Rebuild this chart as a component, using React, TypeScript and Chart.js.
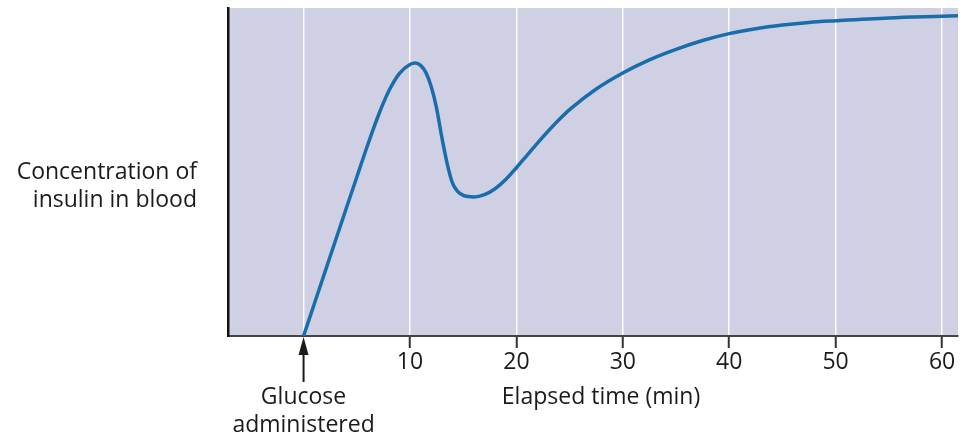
import React, { useEffect, useRef } from "react";
import { Chart, registerables } from "chart.js";

Chart.register(...registerables);

const times = [0, 1, 2, 3, 4, 5, 6, 7, 8, 9, 10, 10.5, 11, 11.5, 12, 12.5, 13, 13.5, 14, 14.5, 15, 15.5, 16, 17, 18, 19, 20, 21, 22, 23, 24, 25, 27.5, 30, 32.5, 35, 37.5, 40, 42.5, 45, 47.5, 50, 55, 60, 61.5];
const insulin = [0, 9.7, 19.4, 29.1, 38.8, 48.4, 58.0, 67.0, 74.6, 80.0, 82.8, 83.2, 82.5, 80.3, 76.0, 69.5, 60.5, 52.5, 46.6, 44.0, 42.9, 42.5, 42.4, 43.1, 44.9, 47.7, 51.3, 55.1, 58.9, 62.5, 65.9, 69.0, 75.3, 80.2, 84.2, 87.4, 90.1, 92.2, 93.7, 94.8, 95.6, 96.1, 96.95, 97.45, 97.6];
const tickValues = [0, 10, 20, 30, 40, 50, 60];
const yTitleLines = ["Concentration of", "insulin in blood"];
const xTitle = "Elapsed time (min)";
const markerLines = ["Glucose", "administered"];

const FONT = "'Open Sans', 'Noto Sans', sans-serif";
const TEXT = "#1c1a1b";

const decorPlugin = {
  id: "decor",
  beforeDraw(chart: any) {
    const { ctx, chartArea } = chart;
    ctx.save();
    ctx.fillStyle = "#d0d0e4";
    ctx.fillRect(chartArea.left, chartArea.top, chartArea.right - chartArea.left, chartArea.bottom - chartArea.top);
    ctx.restore();
  },
  afterDraw(chart: any) {
    const { ctx, chartArea } = chart;
    const xs = chart.scales.x;
    ctx.save();
    ctx.fillStyle = TEXT;
    ctx.font = `23px ${FONT}`;
    ctx.textAlign = "right";
    ctx.textBaseline = "middle";
    ctx.fillText(yTitleLines[0], 197, 172);
    ctx.fillText(yTitleLines[1], 197, 200);

    ctx.textAlign = "center";
    const x0 = xs.getPixelForValue(0);
    ctx.fillText(markerLines[0], x0, 397);
    ctx.fillText(markerLines[1], x0, 425);
    ctx.fillText(xTitle, 601, 397);

    // arrow
    const tipY = chartArea.bottom + 1;
    ctx.strokeStyle = TEXT;
    ctx.lineWidth = 2;
    ctx.beginPath();
    ctx.moveTo(x0, tipY + 14);
    ctx.lineTo(x0, 382);
    ctx.stroke();
    ctx.beginPath();
    ctx.moveTo(x0, tipY);
    ctx.lineTo(x0 - 5, tipY + 18);
    ctx.lineTo(x0 + 5, tipY + 18);
    ctx.closePath();
    ctx.fill();
    ctx.restore();
  },
};

export default function App() {
  const ref = useRef<HTMLCanvasElement | null>(null);
  useEffect(() => {
    if (!ref.current) return;
    const chart = new Chart(ref.current, {
      type: "line",
      data: {
        datasets: [
          {
            data: times.map((t, i) => ({ x: t, y: insulin[i] })),
            borderColor: "#1a6dab",
            borderWidth: 3.5,
            pointRadius: 0,
            cubicInterpolationMode: "monotone",
            fill: false,
          },
        ],
      },
      options: {
        animation: false,
        responsive: false,
        layout: { padding: { left: 228, right: 7, top: 8, bottom: 59 } },
        plugins: { legend: { display: false }, tooltip: { enabled: false } },
        scales: {
          x: {
            type: "linear",
            min: -7.1,
            max: 61.5,
            afterBuildTicks: (scale: any) => {
              scale.ticks = tickValues.map((v) => ({ value: v }));
            },
            afterFit: (scale: any) => {
              scale.height = 40;
            },
            grid: {
              color: "rgba(255,255,255,0.9)",
              lineWidth: 1.5,
              drawTicks: true,
              tickLength: 12,
              tickWidth: 2,
              tickColor: (c: any) => (c.tick && c.tick.value === 0 ? "rgba(0,0,0,0)" : "#333"),
            },
            border: { display: true, color: "#444", width: 2 },
            ticks: {
              color: TEXT,
              font: { family: FONT, size: 23 },
              padding: 1,
              maxRotation: 0,
              autoSkip: false,
              callback: (v: any) => (v === 0 ? "" : String(v)),
            },
          },
          y: {
            min: 0,
            max: 100,
            afterFit: (scale: any) => {
              scale.width = 0;
            },
            grid: { display: false, drawTicks: false },
            ticks: { display: false },
            border: { display: true, color: "#111", width: 2.5 },
          },
        },
      },
      plugins: [decorPlugin],
    } as any);
    return () => chart.destroy();
  }, []);
  return (
    <div style={{ position: "absolute", left: 0, top: 0, width: 965, height: 435, background: "#fff" }}>
      <canvas ref={ref} width={965} height={435} style={{ width: 965, height: 435 }} />
    </div>
  );
}
